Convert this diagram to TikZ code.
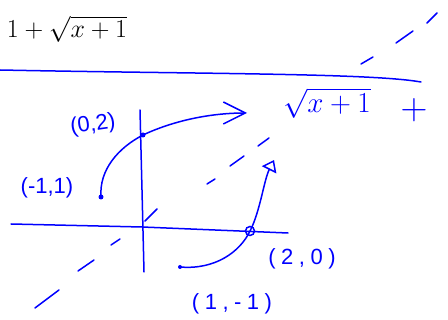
\documentclass[tikz,border=0pt]{standalone}
\usepackage{fontspec}
\usepackage{graphicx}
\setmainfont{Liberation Sans}
\newfontfamily\handfont{Liberation Sans}
\newfontfamily\widehandfont[LetterSpace=25]{Liberation Sans}
\usetikzlibrary{arrows.meta}

\begin{document}
\begin{tikzpicture}[x=1pt, y=-1pt,
  ink/.style={draw=blue, line width=1.5pt, line cap=round},
  lbl/.style={text=blue, font=\handfont\fontsize{22}{24}\selectfont, inner sep=0pt},
  widelbl/.style={lbl, font=\widehandfont\fontsize{22}{24}\selectfont},
  mathlbl/.style={inner sep=0pt, font=\fontsize{20.74}{24}\selectfont},
  dotpt/.style={circle, fill=blue, inner sep=0pt, minimum size=5pt},
  ringpt/.style={circle, draw=blue, line width=1.5pt, inner sep=0pt, minimum size=9pt}
]
\useasboundingbox (0,0) rectangle (448,320);

% formula and rule
\node[mathlbl] (formula) at (67,29) {\scalebox{1.25}{$1+\sqrt{x+1}$}};
\draw[ink] (0,70) .. controls (200,74) and (370,73) .. (421,82);

% dashed y = x
\foreach \a/\b in {{35,308}/{59,290}, {78,271}/{94,260}, {111,245}/{120,239},
  {145,221}/{157,209}, {207,184}/{215,179}, {230,166}/{244,156},
  {258,146}/{269,138}, {361,64}/{373,57}, {396,43}/{413,31}, {427,23}/{437,13}}
  \draw[ink] (\a) -- (\b);

% axes
\draw[ink] (140,110) -- (142,190) -- (144,272);
\draw[ink] (11,224) -- (142,227) -- (288,233);

% points
\node[dotpt] (ptA) at (101,197) {};
\node[dotpt] (ptB) at (143,135) {};
\node[dotpt, minimum size=4pt] (ptC) at (180,267) {};
\node[ringpt] (ptD) at (250,231) {};
\coordinate (tipA) at (247,113);
\coordinate (tipB) at (274,160);

% curves
\draw[ink, -{Straight Barb[length=22pt, width=22pt, line width=1.5pt]}]
  (ptA.center) .. controls (99,170) and (118,148) .. (ptB.center)
  .. controls (175,120) and (212,113) .. (tipA);
\draw[ink, -{Triangle[open, length=11pt, width=16pt, line width=1.5pt]}]
  (ptC.center) .. controls (215,270) and (240,252) .. (ptD.center)
  .. controls (260,212) and (264,180) .. (tipB);

% labels
\node[lbl, rotate=8] (labB) at (93,125) {(0,2)};
\node[lbl] (labA) at (47,188) {(-1,1)};
\node[widelbl] (labD) at (302,259) {(2,0)};
\node[widelbl] (labC) at (232,304) {(1,-1)};
\node[mathlbl, text=blue] (root) at (327,103) {\scalebox{1.4}{$\sqrt{x+1}$}};
\node[mathlbl, text=blue] (plus) at (414,110) {\scalebox{1.8}{$+$}};
\end{tikzpicture}
\end{document}
